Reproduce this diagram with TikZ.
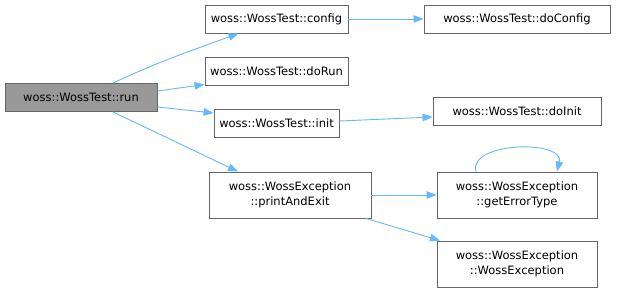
\documentclass[tikz,border=0pt]{standalone}
\usepackage{fontspec}
\setmainfont{DejaVu Sans}
\usetikzlibrary{arrows.meta, calc}
\definecolor{edgeblue}{HTML}{63B8FF}
\definecolor{boxgray}{HTML}{666666}
\definecolor{rootgray}{HTML}{999999}

\begin{document}
\begin{tikzpicture}[x=1pt, y=1pt,
    fn/.style={draw=boxgray, fill=white, line width=0.9pt, inner sep=0pt,
      minimum height=28pt, align=center, font=\fontsize{11.5}{15.5}\selectfont},
    fntwo/.style={fn, minimum height=46pt},
    call/.style={draw=edgeblue, line width=0.9pt, -{Triangle[length=10pt, width=7.5pt]}}]
      \useasboundingbox (0,0) rectangle (617,-292);
      \node[fn, fill=rootgray, minimum width=152pt] (run) at (81,-97.5)
        {woss::WossTest::run};
      \node[fn, minimum width=143pt] (config) at (276.5,-19)
        {woss::WossTest::config};
      \node[fn, minimum width=143pt] (doRun) at (276.5,-71)
        {woss::WossTest::doRun};
      \node[fn, minimum width=125pt] (init) at (276.5,-123)
        {woss::WossTest::init};
      \node[fntwo, minimum width=162pt] (printExit) at (290,-195)
        {woss::WossException\\::printAndExit};
      \node[fn, minimum width=186pt] (doConfig) at (517,-19)
        {woss::WossTest::doConfig};
      \node[fn, minimum width=168pt] (doInit) at (517,-111)
        {woss::WossTest::doInit};
      \node[fntwo, minimum width=160pt] (getErrType) at (517,-195)
        {woss::WossException\\::getErrorType};
      \node[fntwo, minimum width=160pt] (wossExc) at (517,-264)
        {woss::WossException\\::WossException};

      \draw[call] ([xshift=32pt]run.north) to[out=25, in=200] ([xshift=-38pt]config.south);
      \draw[call] ([yshift=6.5pt]run.east) -- (doRun.south west |- 0,-84.5);
      \draw[call] ([yshift=-9.5pt]run.east) -- (init.west |- 0,-113);
      \draw[call] ([xshift=32pt]run.south) -- ([xshift=-52pt]printExit.north);
      \draw[call] (config.east) -- (doConfig.west);
      \draw[call] ([yshift=2pt]init.east) -- ([yshift=-6pt]doInit.west);
      \draw[call] (printExit.east) -- (getErrType.west);
      \draw[call] ([xshift=76pt]printExit.south) -- ([xshift=-77pt]wossExc.north);
      \draw[call] ([xshift=-41pt]getErrType.north) .. controls +(-8,30) and +(8,32)
        .. ([xshift=40pt]getErrType.north);
\end{tikzpicture}
\end{document}
